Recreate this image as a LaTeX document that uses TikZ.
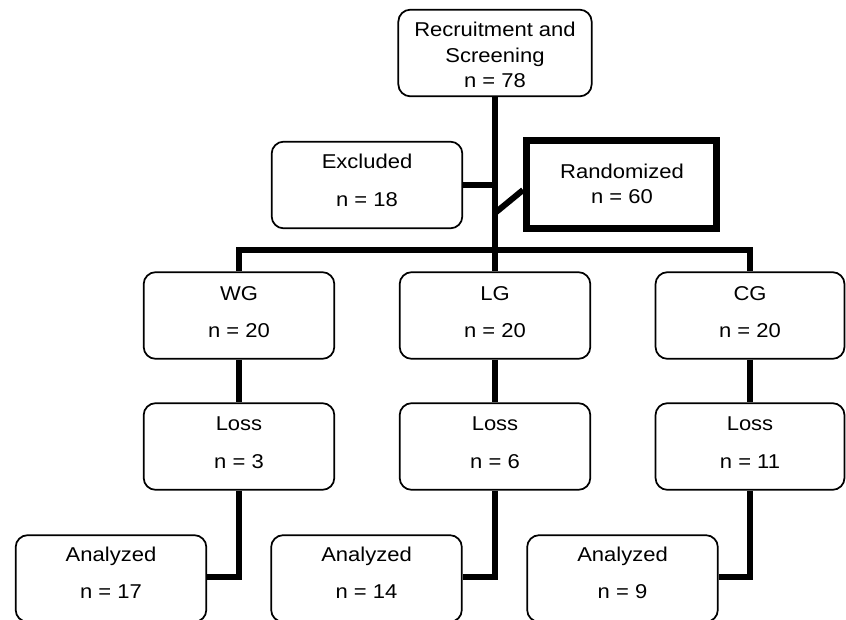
\documentclass[tikz,border=0pt]{standalone}
\usepackage{fontspec}
\setmainfont{Liberation Sans}[FakeStretch=1.1]
\begin{document}
\begin{tikzpicture}[x=0.75pt,y=-0.75pt,
  box/.style={draw, line width=1.3pt, rounded corners=9pt, minimum width=143pt, minimum height=65pt, inner sep=0pt},
  thickbox/.style={draw, line width=5.3pt, minimum width=142.5pt, minimum height=66pt, inner sep=0pt},
  txt/.style={anchor=base, inner sep=0pt, font=\fontsize{15}{18}\selectfont},
  conn/.style={line width=4.5pt}]
\useasboundingbox (0,0) rectangle (846,619);
\clip (0,0) rectangle (846,619);
\fill[white] (0,0) rectangle (846,619);
% boxes
\node[box, minimum width=145pt] (top) at (495,53) {};
\node[box] (excl) at (367,185) {};
\node[thickbox] (rand) at (621.5,184.5) {};
\node[box] (wg) at (239,315.5) {};
\node[box] (lg) at (495,315.5) {};
\node[box, minimum width=141.75pt] (cg) at (750,315.5) {};
\node[box] (wl) at (239,446.5) {};
\node[box] (ll) at (495,446.5) {};
\node[box, minimum width=141.75pt] (cl) at (750,446.5) {};
\node[box] (wa) at (111,578.5) {};
\node[box] (la) at (366.5,578.5) {};
\node[box] (ca) at (622.5,578.5) {};
% texts
\node[txt] (t1) at (495,36) {Recruitment and};
\node[txt] (t2) at (495,62) {Screening};
\node[txt] (t3) at (495,87) {n = 78};
\node[txt] (e1) at (367,168) {Excluded};
\node[txt] (e2) at (367,206) {n = 18};
\node[txt] (r1) at (622,178) {Randomized};
\node[txt] (r2) at (622,203) {n = 60};
\node[txt] (g1) at (239,300) {WG};
\node[txt] (g2) at (239,337) {n = 20};
\node[txt] (g3) at (495,300) {LG};
\node[txt] (g4) at (495,337) {n = 20};
\node[txt] (g5) at (750,300) {CG};
\node[txt] (g6) at (750,337) {n = 20};
\node[txt] (l1) at (239,430) {Loss};
\node[txt] (l2) at (239,468) {n = 3};
\node[txt] (l3) at (495,430) {Loss};
\node[txt] (l4) at (495,468) {n = 6};
\node[txt] (l5) at (750,430) {Loss};
\node[txt] (l6) at (750,468) {n = 11};
\node[txt] (a1) at (111,561) {Analyzed};
\node[txt] (a2) at (111,598) {n = 17};
\node[txt] (a3) at (366.5,561) {Analyzed};
\node[txt] (a4) at (366.5,598) {n = 14};
\node[txt] (a5) at (622.5,561) {Analyzed};
\node[txt] (a6) at (622.5,598) {n = 9};
% connectors
\coordinate (bar) at (495,250);
\coordinate (d1) at (495,213);
\coordinate (d2) at (523,190);
\draw[conn] (top.south) -- (lg.north);
\draw[conn] (excl.east) -- (excl.east -| top.south);
\draw[conn] (d1) -- (d2);
\draw[conn] (wg.north) |- (bar) -| (cg.north);
\draw[conn] (wg.south) -- (wl.north);
\draw[conn] (lg.south) -- (ll.north);
\draw[conn] (cg.south) -- (cl.north);
\draw[conn] (wl.south) |- ([yshift=1pt]wa.east);
\draw[conn] (ll.south) |- ([yshift=1pt]la.east);
\draw[conn] (cl.south) |- ([yshift=1pt]ca.east);
\end{tikzpicture}
\end{document}
